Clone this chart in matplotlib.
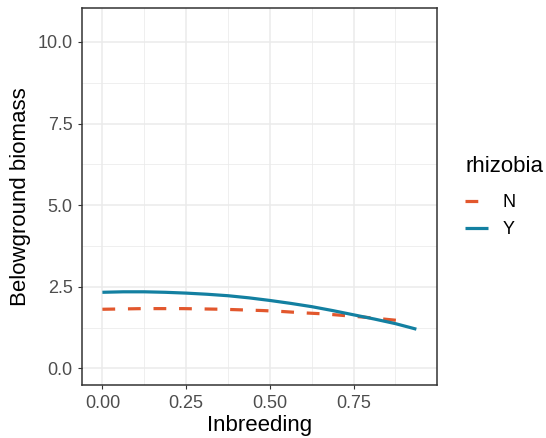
import matplotlib
matplotlib.use("Agg")
import matplotlib.pyplot as plt
from matplotlib.ticker import MultipleLocator

plt.rcParams['font.family'] = ['Liberation Sans', 'DejaVu Sans']

# fitted curves, biomass against inbreeding coefficient
inbreeding_n = [0.00, 0.06, 0.12, 0.18, 0.24, 0.30, 0.36, 0.42,
                0.48, 0.54, 0.60, 0.66, 0.72, 0.78, 0.84, 0.90]
biomass_n = [1.81, 1.82, 1.83, 1.83, 1.83, 1.82, 1.81, 1.79,
             1.77, 1.74, 1.70, 1.67, 1.62, 1.57, 1.51, 1.45]

inbreeding_y = [0.0, 0.0625, 0.125, 0.1875, 0.25, 0.3125, 0.375, 0.4375,
                0.5, 0.5625, 0.625, 0.6875, 0.75, 0.8125, 0.875, 0.9375]
biomass_y = [2.33, 2.345, 2.345, 2.33, 2.305, 2.27, 2.225, 2.16,
             2.08, 1.99, 1.89, 1.77, 1.64, 1.51, 1.37, 1.20]

groups = ['N', 'Y']
colours = {'N': '#E2572D', 'Y': '#1380A1'}

x_ticks = [0.0, 0.25, 0.5, 0.75]
y_ticks = [0.0, 2.5, 5.0, 7.5, 10.0]

fig = plt.figure(figsize=(5.46, 4.38), dpi=100)
ax = fig.add_axes([82.3 / 546, 1 - 385 / 438, (437.3 - 82.3) / 546, (385 - 8.3) / 438])

ax.plot(inbreeding_n, biomass_n, color=colours['N'], lw=2.3,
        dashes=(4.0, 4.0), dash_capstyle='butt', label=groups[0])
ax.plot(inbreeding_y, biomass_y, color=colours['Y'], lw=2.3,
        solid_capstyle='butt', label=groups[1])

ax.set_xlim(-0.06, 1.0)
ax.set_ylim(-0.51, 11.03)
ax.set_xticks(x_ticks)
ax.set_yticks(y_ticks)
ax.set_xticklabels(['0.00', '0.25', '0.50', '0.75'])
ax.set_yticklabels(['0.0', '2.5', '5.0', '7.5', '10.0'])
ax.xaxis.set_minor_locator(MultipleLocator(0.125))
ax.yaxis.set_minor_locator(MultipleLocator(1.25))

# theme_bw look
ax.set_axisbelow(True)
ax.grid(which='major', color='#EBEBEB', lw=1.1)
ax.grid(which='minor', color='#EBEBEB', lw=0.55)
ax.tick_params(which='minor', length=0)
ax.tick_params(which='major', length=3, width=0.8, color='#333333',
               labelcolor='#4D4D4D', labelsize=13, pad=4)
for sp in ax.spines.values():
    sp.set_color('#333333')
    sp.set_linewidth(1.1)

ax.set_xlabel('Inbreeding', fontsize=16, labelpad=2)
ax.set_ylabel('Belowground biomass', fontsize=16, labelpad=5)

leg = fig.legend(loc='upper left', bbox_to_anchor=(449 / 546, 1 - 140 / 438),
                 frameon=False, title='rhizobia', fontsize=13,
                 title_fontsize=16, handlelength=1.25, handletextpad=0.8,
                 labelspacing=0.55, alignment='left')
leg._legend_box.sep = 12

fig.savefig('out.png', dpi=100)
